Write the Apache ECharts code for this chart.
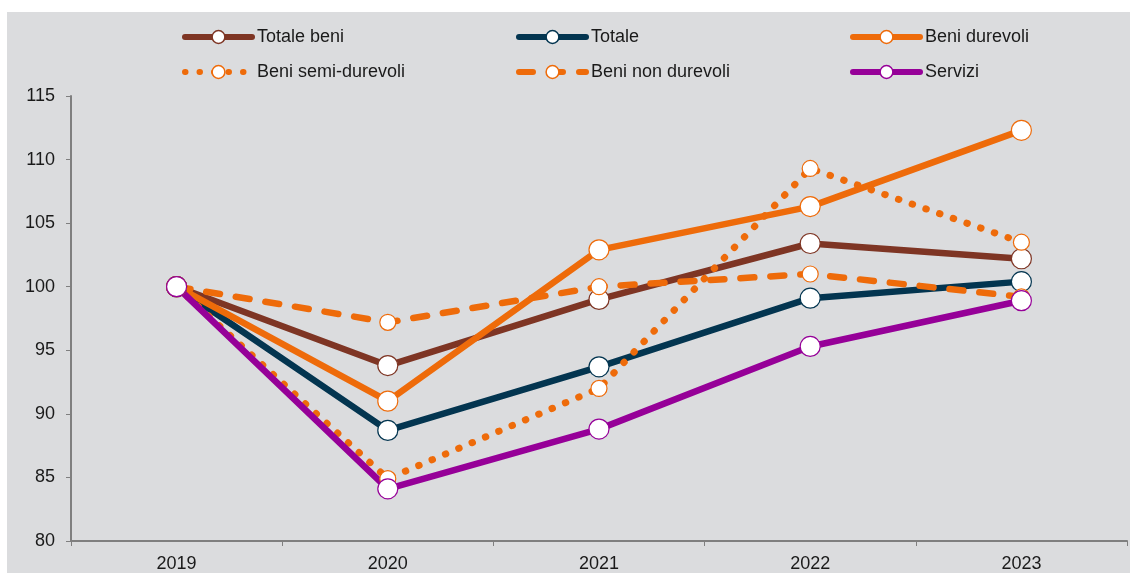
<!DOCTYPE html>
<html>
<head>
<meta charset="utf-8">
<script src="https://cdn.jsdelivr.net/npm/echarts@6/dist/echarts.min.js"></script>
<style>
  html, body { margin: 0; padding: 0; background: #ffffff; }
  #chart { width: 1130px; height: 573px; }
</style>
</head>
<body>
<div id="chart"></div>
<script>
// Anni e indici (2019 = 100)
const years = ['2019', '2020', '2021', '2022', '2023'];
const totaleBeni = [100, 93.8, 99.0, 103.4, 102.2];
const totale = [100, 88.7, 93.7, 99.1, 100.4];
const beniDurevoli = [100, 91.0, 102.9, 106.3, 112.3];
const beniSemiDurevoli = [100, 84.9, 92.0, 109.3, 103.5];
const beniNonDurevoli = [100, 97.2, 100.0, 101.0, 99.2];
const servizi = [100, 84.1, 88.8, 95.3, 98.9];

const BROWN = '#7E3524';
const NAVY = '#033550';
const ORANGE = '#EE6B0A';
const PURPLE = '#960098';
const FONT = 'Liberation Sans, Arial, sans-serif';

const chart = echarts.init(document.getElementById('chart'), null, { renderer: 'canvas' });

function lineSeries(name, data, color, lineType, size, width) {
  return {
    name: name,
    type: 'line',
    data: data,
    symbol: 'circle',
    symbolSize: size,
    showAllSymbol: true,
    itemStyle: { color: '#ffffff', borderColor: color, borderWidth: 1.2 },
    lineStyle: { color: color, width: width, type: lineType, cap: 'round' },
    emphasis: { disabled: true },
    animation: false
  };
}

// Legenda su due righe e tre colonne
const legendCols = [182, 516, 850];
const legendRows = [28, 63];
const legendNames = [
  ['Totale beni', 'Totale', 'Beni durevoli'],
  ['Beni semi-durevoli', 'Beni non durevoli', 'Servizi']
];
const legends = [];
legendNames.forEach((row, r) => {
  row.forEach((name, c) => {
    legends.push({
      data: [name],
      left: legendCols[c],
      top: legendRows[r],
      itemWidth: 67,
      itemHeight: 16,
      itemGap: 5,
      padding: 0,
      lineStyle: { width: 6, cap: 'round' },
      itemStyle: { borderWidth: 1.5 },
      textStyle: { fontFamily: FONT, fontSize: 18, color: '#1a1a1a' },
      selectedMode: false
    });
  });
});

chart.setOption({
  backgroundColor: '#ffffff',
  animation: false,
  graphic: [{
    type: 'rect',
    z: -10,
    shape: { x: 7, y: 12, width: 1123, height: 561 },
    style: { fill: '#DBDCDE' },
    silent: true
  }],
  legend: legends,
  grid: { left: 71, right: 3, top: 96, bottom: 30, containLabel: false },
  xAxis: {
    type: 'category',
    data: years,
    boundaryGap: true,
    axisLine: { lineStyle: { color: '#7f7f7f', width: 2 } },
    axisTick: { show: true, length: 5, lineStyle: { color: '#7f7f7f', width: 1 } },
    axisLabel: { color: '#1a1a1a', fontSize: 18, fontFamily: FONT, margin: 14 },
    splitLine: { show: false }
  },
  yAxis: {
    type: 'value',
    min: 80,
    max: 115,
    interval: 5,
    axisLine: { show: true, lineStyle: { color: '#7f7f7f', width: 2 } },
    axisTick: { show: true, length: 5, lineStyle: { color: '#7f7f7f', width: 1 } },
    axisLabel: { color: '#1a1a1a', fontSize: 18, fontFamily: FONT, margin: 16 },
    splitLine: { show: false }
  },
  series: [
    lineSeries('Totale beni', totaleBeni, BROWN, 'solid', 20, 6.5),
    lineSeries('Totale', totale, NAVY, 'solid', 20, 6.5),
    lineSeries('Beni durevoli', beniDurevoli, ORANGE, 'solid', 20, 6.5),
    lineSeries('Beni semi-durevoli', beniSemiDurevoli, ORANGE, [0.5, 14], 16, 7),
    lineSeries('Beni non durevoli', beniNonDurevoli, ORANGE, [14, 16], 16, 6.5),
    lineSeries('Servizi', servizi, PURPLE, 'solid', 20, 6.5)
  ]
});
</script>
</body>
</html>
